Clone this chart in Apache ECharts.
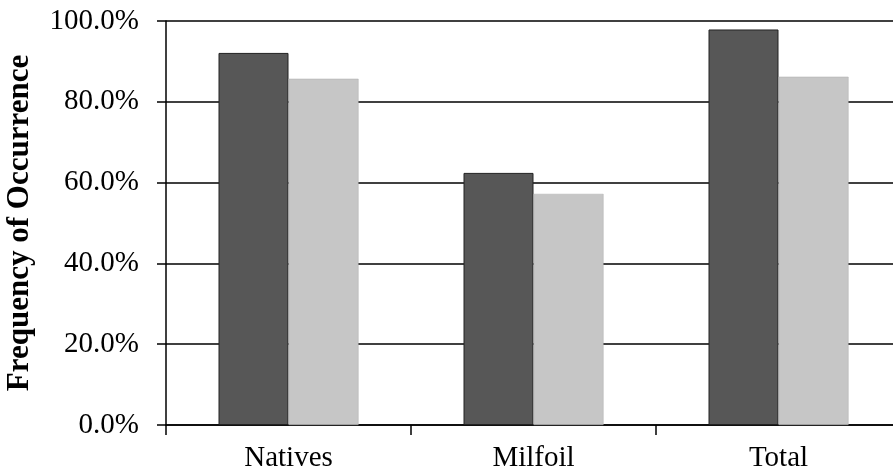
<!DOCTYPE html>
<html>
<head>
<meta charset="utf-8">
<script src="https://cdn.jsdelivr.net/npm/echarts@6/dist/echarts.min.js"></script>
<style>
html,body{margin:0;padding:0;background:#fff;}
#chart{width:893px;height:476px;}
</style>
</head>
<body>
<div id="chart"></div>
<script>
var categories = ['Natives', 'Milfoil', 'Total'];
var seriesDark = [92.1, 62.4, 97.9];
var seriesLight = [85.7, 57.2, 86.2];
var yTicks = [0, 20, 40, 60, 80, 100];

var chart = echarts.init(document.getElementById('chart'));
var font = 'Liberation Serif, Times New Roman, serif';
chart.setOption({
  animation: false,
  backgroundColor: '#fff',
  grid: { left: 166, top: 21, width: 735, height: 404, containLabel: false, outerBoundsMode: 'none' },
  xAxis: {
    type: 'category',
    data: categories,
    axisLine: { lineStyle: { color: '#000', width: 1.5 } },
    axisTick: { show: true, length: 10, lineStyle: { color: '#000', width: 1.5 } },
    axisLabel: { color: '#000', fontFamily: font, fontSize: 29, margin: 19 }
  },
  yAxis: {
    type: 'value',
    min: yTicks[0],
    max: yTicks[yTicks.length - 1],
    interval: 20,
    name: 'Frequency of Occurrence',
    nameLocation: 'middle',
    nameGap: 131,
    nameTextStyle: { color: '#000', fontFamily: font, fontSize: 31, fontWeight: 'bold' },
    axisLine: { show: true, lineStyle: { color: '#000', width: 1.5 } },
    axisTick: { show: true, length: 9, lineStyle: { color: '#000', width: 1.5 } },
    axisLabel: { color: '#000', fontFamily: font, fontSize: 29, margin: 27,
      formatter: function (v) { return v.toFixed(1) + '%'; } },
    splitLine: { show: true, lineStyle: { color: '#000', width: 1.5 } }
  },
  series: [
    { type: 'bar', data: seriesDark, barWidth: 70, barGap: '0%',
      itemStyle: { color: '#575757', borderColor: '#222', borderWidth: 1 } },
    { type: 'bar', data: seriesLight, barWidth: 70,
      itemStyle: { color: '#c6c6c6', borderColor: '#aaa', borderWidth: 0.5 } }
  ]
});
</script>
</body>
</html>
